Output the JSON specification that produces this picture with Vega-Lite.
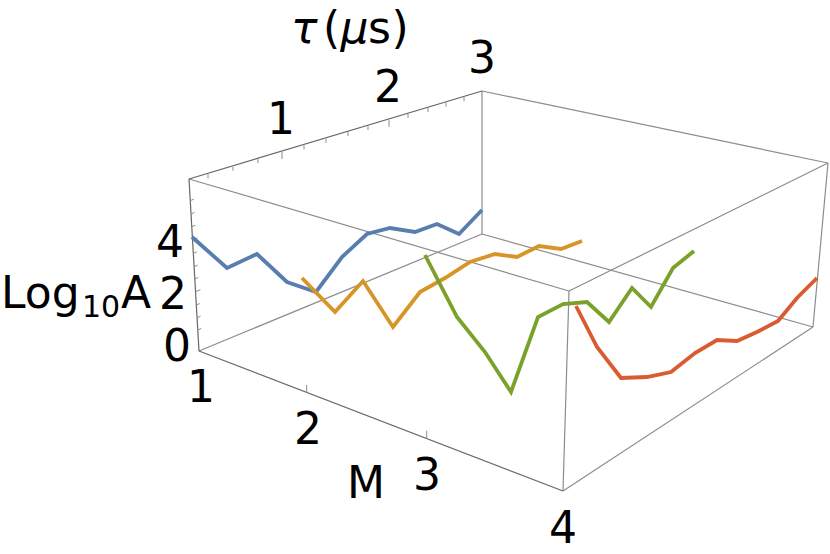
{"$schema":"https://vega.github.io/schema/vega-lite/v6.json","width":830,"height":554,"padding":0,"autosize":{"type":"none"},"background":"white","view":{"stroke":null},
"datasets":{
"series":[
{"s":"a","x":192,"y":237},{"s":"a","x":227,"y":268},{"s":"a","x":257,"y":254},{"s":"a","x":287,"y":282},{"s":"a","x":316,"y":292},{"s":"a","x":342,"y":257},{"s":"a","x":367,"y":234},{"s":"a","x":390,"y":228},{"s":"a","x":415,"y":232},{"s":"a","x":437,"y":224},{"s":"a","x":459,"y":234},{"s":"a","x":482,"y":210},
{"s":"b","x":302,"y":278},{"s":"b","x":335,"y":312},{"s":"b","x":363,"y":281},{"s":"b","x":393,"y":327},{"s":"b","x":420,"y":292},{"s":"b","x":445,"y":278},{"s":"b","x":470,"y":262},{"s":"b","x":495,"y":254},{"s":"b","x":517,"y":257},{"s":"b","x":539,"y":246},{"s":"b","x":561,"y":249},{"s":"b","x":582,"y":241},
{"s":"c","x":425,"y":255},{"s":"c","x":457,"y":317},{"s":"c","x":485,"y":352},{"s":"c","x":511,"y":392},{"s":"c","x":538,"y":317},{"s":"c","x":563,"y":304},{"s":"c","x":587,"y":302},{"s":"c","x":609,"y":322},{"s":"c","x":632,"y":288},{"s":"c","x":651,"y":307},{"s":"c","x":673,"y":268},{"s":"c","x":694,"y":251},
{"s":"d","x":576,"y":306},{"s":"d","x":597,"y":347},{"s":"d","x":621,"y":378},{"s":"d","x":647,"y":377},{"s":"d","x":671,"y":372},{"s":"d","x":695,"y":353},{"s":"d","x":717,"y":340},{"s":"d","x":737,"y":341},{"s":"d","x":757,"y":332},{"s":"d","x":778,"y":321},{"s":"d","x":797,"y":298},{"s":"d","x":817,"y":278}
],
"box":[
{"x":482,"y":91,"x2":828,"y2":163},{"x":828,"y":163,"x2":569,"y2":291},{"x":569,"y":291,"x2":189,"y2":179},{"x":482,"y":91,"x2":482,"y2":234},{"x":828,"y":163,"x2":813,"y2":327},{"x":569,"y":291,"x2":563,"y2":491},{"x":199,"y":351,"x2":482,"y2":234},{"x":482,"y":234,"x2":813,"y2":327},{"x":813,"y":327,"x2":563,"y2":491}
],
"axes":[
{"x":189,"y":179,"x2":482,"y2":91},{"x":189,"y":179,"x2":199,"y2":351},{"x":199,"y":351,"x2":563,"y2":491}
],
"ticks":[
{"x":208,"y":174.3,"x2":208,"y2":178.3},{"x":233,"y":166.8,"x2":233,"y2":170.8},{"x":258,"y":159.2,"x2":258,"y2":163.2},{"x":282,"y":152,"x2":282,"y2":159},{"x":304,"y":145.4,"x2":304,"y2":149.4},{"x":326,"y":138.8,"x2":326,"y2":142.8},{"x":348,"y":132.1,"x2":348,"y2":136.1},{"x":368,"y":126.1,"x2":368,"y2":130.1},{"x":389,"y":119.8,"x2":389,"y2":126.8},{"x":408,"y":114,"x2":408,"y2":118},{"x":428,"y":108,"x2":428,"y2":112},{"x":446,"y":102.6,"x2":446,"y2":106.6},{"x":464,"y":97.2,"x2":464,"y2":101.2},
{"x":190.3,"y":200.7,"x2":193.8,"y2":199.2},{"x":191,"y":214,"x2":194.5,"y2":212.5},{"x":191.8,"y":226.7,"x2":195.3,"y2":225.2},{"x":192.5,"y":240,"x2":197.5,"y2":238},{"x":193.3,"y":253.3,"x2":196.8,"y2":251.8},{"x":194.1,"y":266.7,"x2":197.6,"y2":265.2},{"x":194.8,"y":279,"x2":198.3,"y2":277.5},{"x":195.5,"y":291.7,"x2":200.5,"y2":289.7},{"x":196.3,"y":305,"x2":199.8,"y2":303.5},{"x":197.1,"y":317.7,"x2":200.6,"y2":316.2},{"x":197.8,"y":330,"x2":201.3,"y2":328.5},
{"x":306.7,"y":392.7,"x2":306.7,"y2":385},{"x":426.7,"y":438.7,"x2":426.7,"y2":430.7}
],
"ticksText":[
{"t":"1","x":281,"y":134},{"t":"2","x":388,"y":102},{"t":"3","x":482,"y":73},
{"t":"4","x":170,"y":257},{"t":"2","x":173,"y":309},{"t":"0","x":177,"y":361},
{"t":"1","x":201,"y":402},{"t":"2","x":308,"y":444},{"t":"3","x":427,"y":490},{"t":"4","x":563,"y":543},
{"t":"M","x":366,"y":498}
],
"titles":[{"t":"Log","x":1,"y":308},{"t":"A","x":121,"y":308},{"t":"(","x":323,"y":43},{"t":"s","x":368,"y":43},{"t":")","x":391.5,"y":43}],
"italic":[{"t":"τ","x":291,"y":43},{"t":"μ","x":340.5,"y":43}],
"sub":[{"t":"10","x":82,"y":317}]
},
"layer":[
{"data":{"name":"box"},"mark":{"type":"rule","color":"#8c8c8c","strokeWidth":1.2},"encoding":{"x":{"field":"x","type":"quantitative","scale":{"domain":[0,830],"range":[0,830],"nice":false,"zero":false},"axis":null},"y":{"field":"y","type":"quantitative","scale":{"domain":[554,0],"range":[554,0],"nice":false,"zero":false},"axis":null},"x2":{"field":"x2"},"y2":{"field":"y2"}}},
{"data":{"name":"axes"},"mark":{"type":"rule","color":"#666666","strokeWidth":1.2},"encoding":{"x":{"field":"x","type":"quantitative","axis":null},"y":{"field":"y","type":"quantitative","axis":null},"x2":{"field":"x2"},"y2":{"field":"y2"}}},
{"data":{"name":"ticks"},"mark":{"type":"rule","color":"#8c8c8c","strokeWidth":1},"encoding":{"x":{"field":"x","type":"quantitative","axis":null},"y":{"field":"y","type":"quantitative","axis":null},"x2":{"field":"x2"},"y2":{"field":"y2"}}},
{"data":{"name":"series"},"mark":{"type":"line","strokeWidth":3.8,"strokeJoin":"miter","strokeCap":"butt"},"encoding":{"x":{"field":"x","type":"quantitative","axis":null},"y":{"field":"y","type":"quantitative","axis":null},"color":{"field":"s","type":"nominal","legend":null,"scale":{"domain":["a","b","c","d"],"range":["#5A7DAF","#D69526","#7CA12B","#DA5B30"]}}}},
{"data":{"name":"ticksText"},"mark":{"type":"text","font":"DejaVu Sans","fontSize":44,"align":"center","baseline":"alphabetic","color":"black"},"encoding":{"x":{"field":"x","type":"quantitative","axis":null},"y":{"field":"y","type":"quantitative","axis":null},"text":{"field":"t"}}},
{"data":{"name":"titles"},"mark":{"type":"text","font":"DejaVu Sans","fontSize":44,"align":"left","baseline":"alphabetic","color":"black"},"encoding":{"x":{"field":"x","type":"quantitative","axis":null},"y":{"field":"y","type":"quantitative","axis":null},"text":{"field":"t"}}},
{"data":{"name":"italic"},"mark":{"type":"text","font":"DejaVu Sans","fontStyle":"italic","fontSize":44,"align":"left","baseline":"alphabetic","color":"black"},"encoding":{"x":{"field":"x","type":"quantitative","axis":null},"y":{"field":"y","type":"quantitative","axis":null},"text":{"field":"t"}}},
{"data":{"name":"sub"},"mark":{"type":"text","font":"DejaVu Sans","fontSize":30,"align":"left","baseline":"alphabetic","color":"black"},"encoding":{"x":{"field":"x","type":"quantitative","axis":null},"y":{"field":"y","type":"quantitative","axis":null},"text":{"field":"t"}}}
]}
